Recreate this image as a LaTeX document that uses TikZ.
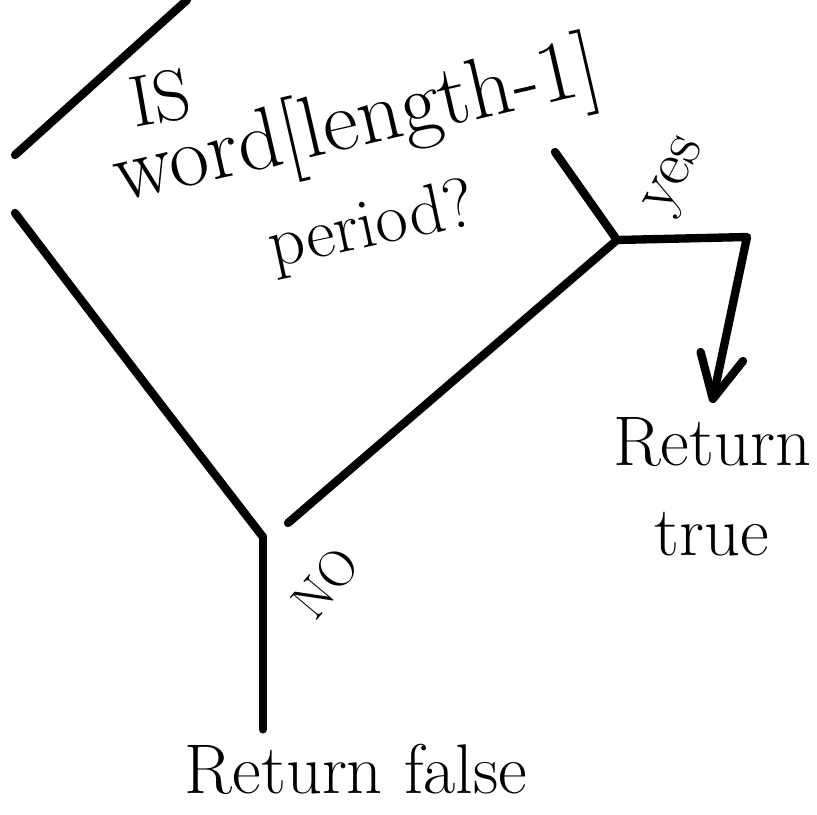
\documentclass[tikz,border=0pt]{standalone}
\usepackage{tikz}
\usetikzlibrary{arrows.meta, positioning, calc}
\tikzset{
	pen/.style={line width=2.5mm, line cap=round, line join=round},
	hand/.style={inner sep=12pt, align=center},
	big/.style={font=\fontsize{60}{77}\selectfont},
}

\begin{document}
\begin{tikzpicture}[x=0.3mm, y=-0.3mm]
				\useasboundingbox (0,0) rectangle (817,814);
				\clip (0,0) rectangle (817,814);
				\coordinate (tl1) at (15,155);
				\coordinate (tl2) at (187,0);
				\coordinate (lft) at (15,213);
				\coordinate (bot) at (263,537);
				\coordinate (br) at (288,523);
				\coordinate (rgt) at (617,240);
				\coordinate (tr) at (555,152);
				\coordinate (bend) at (747,237);
				\node[hand, font=\fontsize{62}{72}\selectfont, rotate=10] (isq) at (160,98) {IS};
				\node[hand, font=\fontsize{74}{84}\selectfont, rotate=13] (wordq) at (357,125) {word[length-1]};
				\node[hand, big, rotate=12] (periodq) at (372,228) {period?};
				\node[hand, font=\fontsize{55}{66}\selectfont, rotate=62] (yes) at (678,177) {yes};
				\node[hand, font=\fontsize{44}{52}\selectfont, rotate=50] (no) at (325,583) {NO};
				\node[hand, big, anchor=north] (rtrue) at (712,403) {Return\\true};
				\node[hand, big, anchor=base] (rfalse) at (356,793) {Return false};
				\draw[pen] (tl1) -- (tl2);
				\draw[pen] (lft) .. controls (142,380) .. (bot);
				\draw[pen] (br) -- (rgt);
				\draw[pen] (tr) -- (rgt);
				\draw[pen, -{Straight Barb[round, length=13mm, width=13mm]}] (rgt) -- (bend) -- (rtrue.north);
				\draw[pen] (bot) -- (bot |- rfalse.north);
			\end{tikzpicture}
\end{document}
